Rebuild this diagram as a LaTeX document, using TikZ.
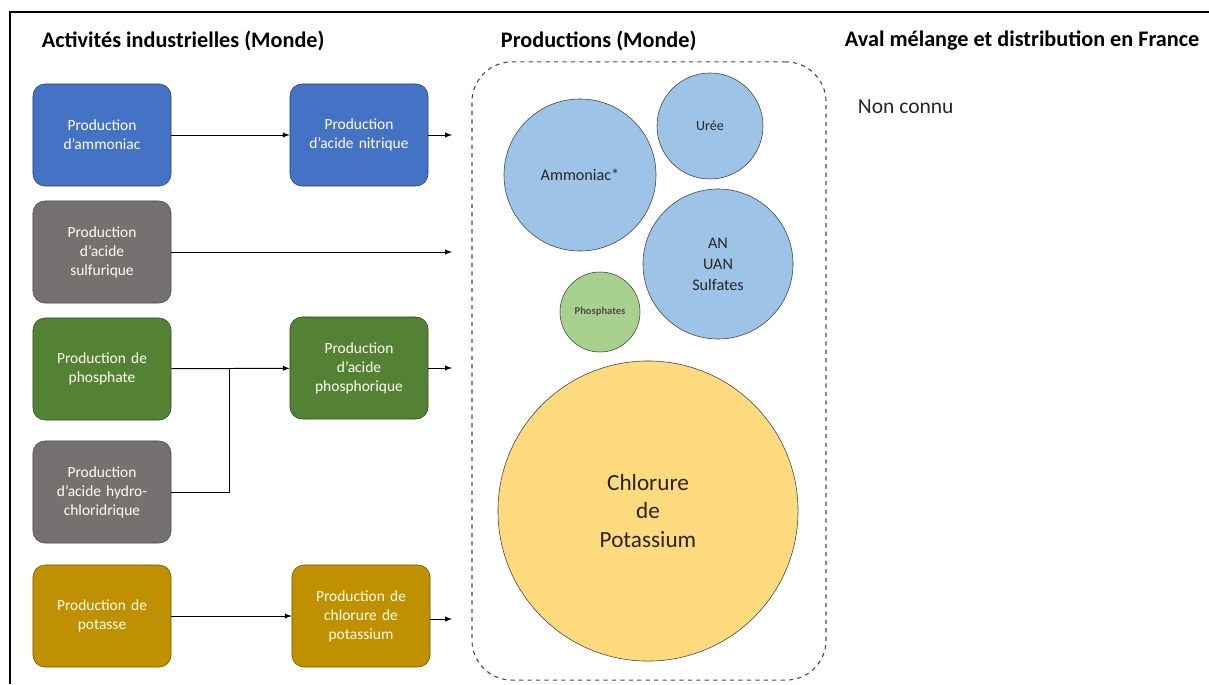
\documentclass[tikz,border=0pt]{standalone}
\usepackage{fontspec}
\setmainfont{Carlito}
\definecolor{bleu}{HTML}{4472C4}
\definecolor{gris}{HTML}{767171}
\definecolor{vert}{HTML}{548235}
\definecolor{ocre}{HTML}{BF9000}
\definecolor{bleuclair}{HTML}{9DC3E6}
\definecolor{vertclair}{HTML}{A9D18E}
\definecolor{jaune}{HTML}{FFDA7E}

\begin{document}
\begin{tikzpicture}[x=0.025cm, y=-0.025cm,
        boite/.style={draw=#1!60!black, fill=#1, rounded corners=0.3cm,
                text=white!94!yellow, font=\fontsize{11}{13.5}\selectfont,
                minimum width=3.45cm, minimum height=2.55cm,
                text width=3.15cm, align=center},
        bulle/.style={circle, draw=black!75, fill=#1, align=center,
                inner sep=0pt, text=black!85},
        titre/.style={anchor=west, font=\fontsize{15.8}{18}\selectfont\bfseries},
        fleche/.style={line width=0.7pt, -latex}
    ]
    \useasboundingbox (0,0) rectangle (1209,684);
    \draw[line width=1.2pt] (10,684) -- (10,12) -- (1209,12);

    % titres des colonnes
    \node[titre] (t1) at (37,41) {Activités industrielles (Monde)};
    \node[titre] (t2) at (496,41) {Productions (Monde)};
    \node[titre] (t3) at (840,41) {Aval mélange et distribution en France};
    \node[anchor=west, font=\fontsize{15.3}{17}\selectfont, text=black!85] (nc) at (853,107) {Non connu};

    % activités
    \node[boite=bleu] (nh3) at (102,135) {Production\\d’ammoniac};
    \node[boite=gris] (h2so4) at (102,252) {Production\\d’acide\\sulfurique};
    \node[boite=vert] (phos) at (102,369) {Production de\\phosphate};
    \node[boite=gris] (hcl) at (102,492) {Production\\d’acide hydro-\\chloridrique};
    \node[boite=ocre] (pot) at (102,616) {Production de\\potasse};

    \node[boite=bleu] (hno3) at (359,135) {Production\\d’acide nitrique};
    \node[boite=vert] (h3po4) at (359,368) {Production\\d’acide\\phosphorique};
    \node[boite=ocre] (kcl) at (361,616) {Production de\\chlorure de\\potassium};

    % productions
    \node[draw=black!70, dashed, line width=0.8pt, rounded corners=1cm,
        minimum width=8.85cm, minimum height=15.45cm] (prod) at (649,371) {};
    \node[bulle=bleuclair, minimum size=3.8cm, font=\fontsize{11.5}{13}\selectfont] (amm) at (580,175) {Ammoniac*};
    \node[bulle=bleuclair, minimum size=2.65cm, font=\fontsize{10}{12}\selectfont] (uree) at (710,126) {Urée};
    \node[bulle=bleuclair, minimum size=3.75cm, font=\fontsize{11.5}{15}\selectfont] (an) at (718,264) {AN\\UAN\\Sulfates};
    \node[bulle=vertclair, minimum size=2cm, font=\fontsize{7.5}{9}\selectfont\bfseries, text=black!70] (phs) at (600,312) {Phosphates};
    \node[bulle=jaune, minimum size=7.5cm, font=\fontsize{16.5}{20.5}\selectfont] (kclp) at (648,511) {Chlorure\\de\\Potassium};

    \coordinate (s1) at (452,135);
    \coordinate (s2) at (452,252);
    \coordinate (s3) at (452,368);
    \coordinate (s4) at (452,619);
    \coordinate (jct) at (229,369);

    \draw[fleche] (nh3) -- (hno3);
    \draw[fleche] (hno3) -- (s1);
    \draw[fleche] (h2so4) -- (s2);
    \draw[fleche] (phos) -- (h3po4);
    \draw[line width=0.7pt] (hcl.east) -| (jct);
    \draw[fleche] (h3po4) -- (s3);
    \draw[fleche] (pot) -- (kcl);
    \draw[fleche] (kcl.east |- s4) -- (s4);
\end{tikzpicture}
\end{document}
